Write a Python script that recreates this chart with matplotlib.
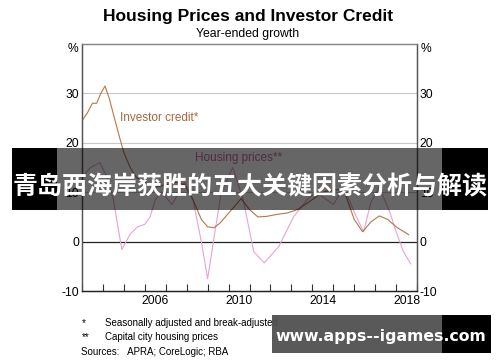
import numpy as np
import matplotlib.pyplot as plt
from matplotlib.patches import Rectangle

# investor credit, year-ended growth (%)
credit_t = [2003.0, 2003.25, 2003.5, 2003.7, 2003.9, 2004.1, 2004.3, 2004.55, 2004.8,
            2005.0, 2005.3, 2005.6, 2006.0, 2006.5, 2007.0, 2007.5, 2007.9, 2008.3,
            2008.7, 2009.0, 2009.3, 2009.6, 2010.05, 2010.6, 2011.0, 2011.4, 2011.8,
            2012.3, 2012.8, 2013.3, 2014.0, 2014.5, 2015.0, 2015.5, 2016.0, 2016.4,
            2016.8, 2017.2, 2017.6, 2018.0, 2018.6]
credit_v = [24.5, 26.0, 28.0, 28.0, 30.0, 31.5, 29.0, 25.0, 21.0,
            18.0, 15.0, 13.0, 12.0, 11.0, 11.5, 12.0, 11.5, 8.5,
            4.5, 3.0, 2.8, 3.8, 6.0, 8.7, 6.5, 5.0, 5.1,
            5.5, 5.8, 6.5, 8.5, 10.0, 10.5, 10.5, 4.5, 2.0,
            4.0, 5.2, 4.5, 3.0, 1.4]

# capital city housing prices, year-ended growth (%)
house_t = [2003.0, 2003.4, 2003.85, 2004.2, 2004.5, 2004.9, 2005.3, 2005.65, 2006.0,
           2006.25, 2006.5, 2006.8, 2007.3, 2007.9, 2008.3, 2008.7, 2009.0, 2009.35,
           2009.65, 2010.2, 2010.7, 2011.2, 2011.7, 2012.4, 2013.1, 2013.75, 2014.2,
           2015.0, 2015.5, 2016.0, 2016.45, 2016.8, 2017.2, 2017.7, 2018.0, 2018.35,
           2018.7]
house_v = [13.0, 15.0, 16.0, 13.0, 8.5, -1.6, 1.5, 3.0, 3.5,
           5.0, 8.5, 10.0, 7.5, 12.0, 8.5, 0.0, -7.5, 2.0,
           10.0, 15.0, 8.5, -2.0, -4.3, -1.0, 5.0, 8.5, 10.0,
           7.5, 11.0, 6.0, 2.0, 8.0, 11.0, 6.0, 2.0, -2.0,
           -4.5]

yticks = [-10, 0, 10, 20, 30]
year_labels = [2006, 2010, 2014, 2018]

brown = '#b87648'
pink = '#e8a2d6'

fig = plt.figure(figsize=(5, 3.62), dpi=100)
ax = fig.add_axes([0.164, 0.196, 0.67, 0.6825])

for y in [10, 20, 30]:
    ax.axhline(y, color='#c8c8c8', lw=0.8, zorder=0)
ax.axhline(0, color='#222222', lw=0.9, zorder=1)

ax.plot(house_t, house_v, color=pink, lw=0.8, zorder=2)
ax.plot(credit_t, credit_v, color=brown, lw=0.8, zorder=3)

ax.set_xlim(2003, 2019)
ax.set_ylim(-10, 40)
ax.set_yticks(yticks)
ax.set_yticklabels([str(v) for v in yticks])
ax.tick_params(axis='y', length=0, labelsize=8.7, pad=2)
ax.set_xticks(np.arange(2003, 2020))
ax.set_xticklabels([])
ax.tick_params(axis='x', which='major', direction='in', length=5, color='#333333')
ax.set_xticks([y + 0.5 for y in year_labels], minor=True)
ax.set_xticklabels([str(y) for y in year_labels], minor=True)
ax.tick_params(axis='x', which='minor', length=0, labelsize=8.7, pad=3)

ax2 = ax.twinx()
ax2.set_ylim(-10, 40)
ax2.set_yticks(yticks)
ax2.set_yticklabels([str(v) for v in yticks])
ax2.tick_params(axis='y', length=0, labelsize=8.7, pad=2)

for a in (ax, ax2):
    a.spines['left'].set_color('#555555')
    a.spines['right'].set_color('#555555')
    a.spines['top'].set_color('#888888')
    a.spines['bottom'].set_color('#222222')
    for s in a.spines.values():
        s.set_linewidth(0.9)

fs = 'Liberation Sans'
for lbl in ax.get_xticklabels(minor=True) + ax.get_yticklabels() + ax2.get_yticklabels():
    lbl.set_family(fs)

ax.text(-0.012, 0.98, '%', transform=ax.transAxes, ha='right', va='center', fontsize=8.7, family=fs)
ax.text(1.012, 0.98, '%', transform=ax.transAxes, ha='left', va='center', fontsize=8.7, family=fs)

ax.text(2004.8, 25.0, 'Investor credit*', color='#a8683e', fontsize=8.5, family=fs, va='center')
ax.text(2008.4, 17.0, 'Housing prices**', color='#c86aa8', fontsize=8.5, family=fs, va='center')

fig.text(0.496, 0.955, 'Housing Prices and Investor Credit', ha='center', va='center',
         fontsize=12.5, fontweight='bold', family=fs)
fig.text(0.496, 0.905, 'Year-ended growth', ha='center', va='center', fontsize=8.8, family=fs)

fig.text(0.164, 1 - 323 / 362, '*', fontsize=7, family=fs, va='center')
fig.text(0.21, 1 - 323 / 362, 'Seasonally adjusted and break-adjusted', fontsize=7, family=fs, va='center')
fig.text(0.164, 1 - 337 / 362, '**', fontsize=7, family=fs, va='center')
fig.text(0.21, 1 - 337 / 362, 'Capital city housing prices', fontsize=7, family=fs, va='center')
fig.text(0.162, 1 - 352 / 362, 'Sources:   APRA; CoreLogic; RBA', fontsize=7, family=fs, va='center')

# banner overlay
fig.patches.append(Rectangle((57 / 500, 1 - 210 / 362), 385 / 500, 62 / 362, transform=fig.transFigure,
                             facecolor='black', alpha=0.6, zorder=5))
fig.patches.append(Rectangle((12 / 500, 1 - 210 / 362), 45 / 500, 62 / 362, transform=fig.transFigure,
                             facecolor='black', zorder=5))
fig.patches.append(Rectangle((442 / 500, 1 - 210 / 362), 46 / 500, 62 / 362, transform=fig.transFigure,
                             facecolor='black', zorder=5))
fig.text(0.5, 1 - 187 / 362, '青岛西海岸获胜的五大关键因素分析与解读', ha='center', va='center',
         fontsize=18, fontweight='bold', color='white', family=['Noto Sans CJK SC', 'DejaVu Sans'], zorder=6)

# watermark
fig.patches.append(Rectangle((272 / 500, 1 - 353 / 362), 170 / 500, 38 / 362, transform=fig.transFigure,
                             facecolor='#505050', alpha=0.95, zorder=5))
fig.patches.append(Rectangle((442 / 500, 1 - 353 / 362), 49 / 500, 38 / 362, transform=fig.transFigure,
                             facecolor='black', zorder=5))
fig.text(0.762, 1 - 336 / 362, 'www.apps--igames.com', ha='center', va='center',
         fontsize=11.3, fontweight='bold', color='white', family='DejaVu Sans', zorder=6)

fig.savefig('out.png', dpi=100)
